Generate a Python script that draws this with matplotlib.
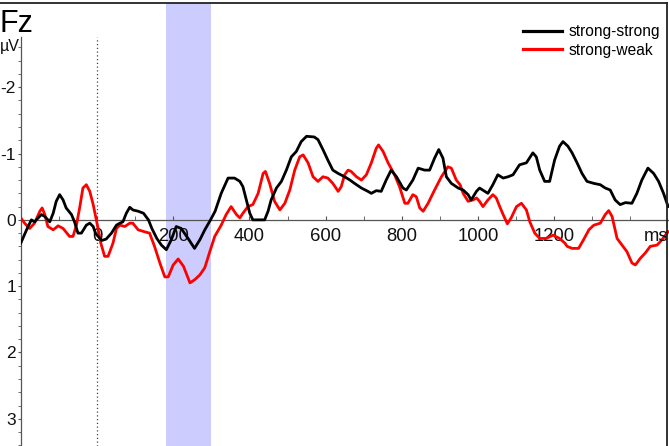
import matplotlib
matplotlib.use("Agg")
import matplotlib.pyplot as plt
from matplotlib.lines import Line2D
import matplotlib.transforms as mtrans

plt.rcParams['font.family'] = ['Liberation Sans', 'DejaVu Sans']

# ---- data (time in ms, amplitude in µV) ----
ss_time = [-200, -181, -172, -164, -146, -137, -124, -115, -107, -98, -89, -81, -67, -59, -50, -41,
           -28, -19, -10, -4, 3, 13, 24, 38, 51, 60, 68, 77, 86, 94, 108, 122, 135, 144, 157, 169,
           182, 195, 208, 221, 239, 256, 270, 283, 297, 310, 326, 344, 361, 375, 383, 392, 401, 409,
           427, 440, 449, 457, 471, 484, 497, 510, 523, 536, 550, 570, 580, 593, 606, 619, 633, 650,
           664, 676, 694, 711, 720, 733, 746, 759, 772, 786, 803, 812, 829, 843, 860, 873, 886, 897,
           908, 917, 930, 948, 961, 974, 982, 996, 1004, 1018, 1026, 1039, 1052, 1066, 1079, 1092,
           1109, 1127, 1144, 1153, 1162, 1175, 1188, 1201, 1214, 1223, 1236, 1247, 1260, 1273, 1286,
           1304, 1321, 1334, 1347, 1360, 1373, 1387, 1404, 1417, 1430, 1446, 1461, 1474, 1487, 1499]
ss_uv = [0.35, 0.10, 0.0, 0.03, -0.08, -0.05, 0.03, -0.10, -0.28, -0.38, -0.30, -0.18, -0.08, 0.03,
         0.20, 0.20, 0.08, 0.05, 0.10, 0.20, 0.25, 0.31, 0.29, 0.20, 0.08, 0.05, 0.03, -0.10, -0.19,
         -0.15, -0.13, -0.10, 0.0, 0.13, 0.28, 0.38, 0.45, 0.30, 0.10, 0.13, 0.28, 0.43, 0.30, 0.15,
         0.01, -0.13, -0.40, -0.63, -0.63, -0.58, -0.50, -0.30, -0.10, 0.0, 0.0, 0.0, -0.13, -0.30,
         -0.48, -0.58, -0.75, -0.95, -1.03, -1.18, -1.26, -1.25, -1.21, -1.06, -0.90, -0.75, -0.70,
         -0.65, -0.60, -0.55, -0.48, -0.43, -0.40, -0.44, -0.43, -0.60, -0.75, -0.65, -0.48, -0.45,
         -0.60, -0.78, -0.75, -0.75, -0.93, -1.06, -0.93, -0.65, -0.55, -0.48, -0.45, -0.38, -0.30,
         -0.43, -0.48, -0.43, -0.40, -0.53, -0.68, -0.63, -0.65, -0.68, -0.83, -0.86, -1.01, -0.95,
         -0.75, -0.58, -0.58, -0.90, -1.11, -1.18, -1.11, -1.01, -0.86, -0.70, -0.58, -0.55, -0.53,
         -0.48, -0.45, -0.30, -0.23, -0.26, -0.25, -0.40, -0.60, -0.78, -0.70, -0.58, -0.40, -0.20]

sw_time = [-200, -190, -177, -164, -150, -144, -137, -129, -115, -102, -89, -72, -63, -54, -45, -37,
           -28, -19, -10, 0, 10, 20, 29, 42, 51, 60, 73, 86, 94, 108, 125, 138, 151, 165, 178, 187,
           200, 213, 227, 244, 257, 270, 283, 296, 309, 326, 339, 352, 366, 375, 383, 396, 409, 423,
           436, 442, 453, 466, 480, 493, 506, 519, 532, 541, 554, 567, 580, 593, 606, 619, 633, 641,
           650, 659, 667, 681, 694, 707, 720, 733, 739, 751, 764, 781, 794, 808, 816, 829, 838, 847,
           856, 869, 886, 904, 921, 930, 943, 953, 961, 974, 987, 996, 1004, 1013, 1026, 1039, 1048,
           1057, 1066, 1077, 1087, 1101, 1114, 1127, 1136, 1149, 1162, 1179, 1197, 1214, 1228, 1234,
           1247, 1264, 1277, 1291, 1304, 1321, 1334, 1343, 1352, 1365, 1378, 1391, 1404, 1413, 1426,
           1439, 1452, 1470, 1483, 1492, 1499]
sw_uv = [-0.03, 0.05, 0.13, 0.05, -0.13, -0.18, -0.08, 0.10, 0.15, 0.09, 0.13, 0.25, 0.25, 0.08,
         -0.20, -0.48, -0.53, -0.43, -0.23, 0.05, 0.35, 0.55, 0.55, 0.35, 0.13, 0.08, 0.10, 0.05,
         0.05, 0.15, 0.18, 0.20, 0.40, 0.65, 0.86, 0.86, 0.68, 0.59, 0.70, 0.95, 0.90, 0.83, 0.72,
         0.48, 0.25, 0.08, -0.08, -0.20, -0.08, -0.03, -0.10, -0.20, -0.23, -0.40, -0.70, -0.73,
         -0.55, -0.28, -0.15, -0.25, -0.45, -0.75, -0.95, -0.98, -0.86, -0.65, -0.58, -0.65, -0.63,
         -0.55, -0.43, -0.50, -0.68, -0.75, -0.73, -0.65, -0.60, -0.68, -0.86, -1.08, -1.13, -1.03,
         -0.86, -0.68, -0.50, -0.25, -0.25, -0.38, -0.35, -0.18, -0.13, -0.25, -0.45, -0.65, -0.80,
         -0.78, -0.60, -0.53, -0.40, -0.28, -0.30, -0.33, -0.28, -0.20, -0.30, -0.38, -0.33, -0.20,
         -0.08, 0.06, -0.03, -0.20, -0.25, -0.15, 0.03, 0.20, 0.28, 0.28, 0.23, 0.28, 0.35, 0.40,
         0.43, 0.43, 0.30, 0.15, 0.08, 0.05, -0.08, -0.14, -0.05, 0.28, 0.38, 0.48, 0.65, 0.68,
         0.58, 0.50, 0.40, 0.38, 0.30, 0.23, 0.18]

series_labels = ["strong-strong", "strong-weak"]
x_tick_values = [0, 200, 400, 600, 800, 1000, 1200]
y_tick_values = [-2, -1, 0, 1, 2, 3]
window = (180, 300)

# ---- figure ----
W, H = 669, 446
fig = plt.figure(figsize=(W / 100, H / 100), dpi=100)
ax = fig.add_axes([20.8 / W, 0, (668.5 - 20.8) / W, 443 / H])
ax.set_xlim(-200, 1500)
ax.set_ylim(3.41, -3.27)

ax.axvspan(window[0], window[1], color='#ccccff', lw=0, zorder=0)
ax.axvline(0, ymin=0, ymax=(3.41 + 2.76) / (3.41 + 3.27), color='#444444', lw=0.9,
           ls=(0, (1, 2)), zorder=1)

l1, = ax.plot(ss_time, ss_uv, color='black', lw=2.0, zorder=4, solid_joinstyle='round')
l2, = ax.plot(sw_time, sw_uv, color='#ff0000', lw=2.0, zorder=3, solid_joinstyle='round')

for s in ['top', 'right']:
    ax.spines[s].set_visible(False)
ax.spines['bottom'].set_position(('data', 0))
ax.spines['bottom'].set_color('#555555')
ax.spines['bottom'].set_linewidth(0.9)
ax.spines['left'].set_color('#555555')
ax.spines['left'].set_linewidth(0.9)
ax.spines['left'].set_bounds(-2.76, 3.41)

ax.set_xticks(x_tick_values)
ax.set_xticklabels([str(v) for v in x_tick_values])
ax.set_xticks(range(-100, 1500, 100), minor=True)
ax.tick_params(axis='x', which='both', direction='in', length=3, color='#555555',
               labelsize=13.3, pad=6, labelcolor='#111111')
ax.set_yticks(y_tick_values)
ax.set_yticklabels([str(v) for v in y_tick_values])
ax.set_yticks([round(-2.6 + 0.2 * i, 1) for i in range(31)], minor=True)
ax.tick_params(axis='y', which='both', direction='out', length=2.0, color='#555555',
               labelsize=12.5, pad=1.5, labelcolor='#111111')

ms_txt = ax.text(1500, 0, "ms", ha='right', va='top', fontsize=13.3, color='#111111')
ms_txt.set_transform(ax.transData + mtrans.ScaledTranslation(0, -6 / 72, fig.dpi_scale_trans))

fig.text(0.0, 1 - 9 / H, "Fz", ha='left', va='top', fontsize=22, color='black')
fig.text(0.0, 1 - 47 / H, "µV", ha='left', va='center', fontsize=11.5, color='#111111')

# figure border lines (top and right)
fig.add_artist(Line2D([0, 666.5 / W], [1 - 3 / H, 1 - 3 / H], transform=fig.transFigure,
                      color='#222222', lw=1.3))
fig.add_artist(Line2D([666.5 / W, 666.5 / W], [0, 1 - 3 / H], transform=fig.transFigure,
                      color='#222222', lw=1.3))

leg = ax.legend([l1, l2], series_labels, loc='upper left',
                bbox_to_anchor=(523 / W, 1 - 24 / H), bbox_transform=fig.transFigure,
                frameon=False, fontsize=11.2, handlelength=2.5, handletextpad=0.4,
                labelspacing=0.25, borderpad=0, borderaxespad=0)
for h in leg.legend_handles:
    h.set_linewidth(2.3)

fig.savefig("out.png", dpi=100)
